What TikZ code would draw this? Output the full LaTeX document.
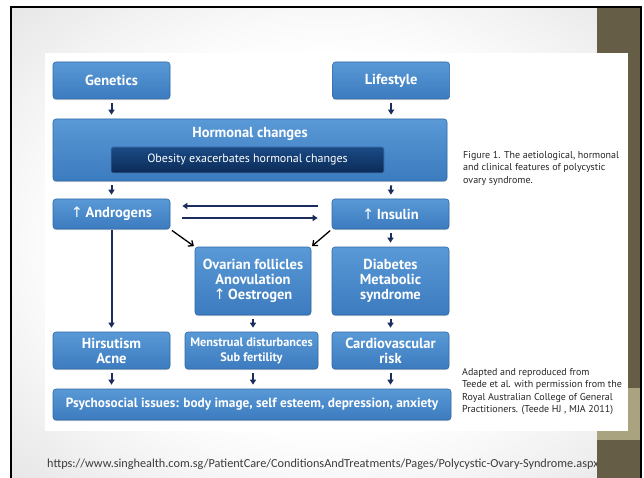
\documentclass[tikz,border=0pt]{standalone}
\usepackage{fontspec}
\setmainfont{PT Sans}
\newfontfamily\webfont{Carlito}
\newfontfamily\arrowfont{DejaVu Sans}
\newcommand{\incr}{{\arrowfont\mdseries ↑}\,}
\usetikzlibrary{arrows.meta,positioning,calc,shadows}
\definecolor{boxtop}{HTML}{5A99D6}
\definecolor{boxbottom}{HTML}{3B7BBF}
\definecolor{boxedge}{HTML}{2F69A8}
\definecolor{darktop}{HTML}{1B4B86}
\definecolor{darkbottom}{HTML}{0B2B57}
\definecolor{navy}{HTML}{1B2D5C}
\definecolor{olive}{HTML}{665D46}
\definecolor{khaki}{HTML}{A9A37F}
\definecolor{urlgray}{HTML}{3C3C3C}
\pgfdeclareradialshading{slide}{\pgfpoint{0bp}{0bp}}{color(0bp)=(white); color(20bp)=(white); color(25bp)=(gray!6); color(36bp)=(gray!20); color(50bp)=(gray!20)}
\tikzset{
  block/.style={
    draw=boxedge,
    line width=0.6pt,
    rectangle,
    rounded corners=3pt,
    top color=boxtop,
    bottom color=boxbottom,
    drop shadow={shadow xshift=0pt, shadow yshift=-1.2pt, opacity=0.3},
    text=white,
    minimum width=117pt,
    minimum height=30pt,
    inner sep=0pt,
    align=center,
    font=\bfseries\fontsize{14.5}{15}\selectfont
  },
  darkbar/.style={
    draw=boxtop!60!darktop,
    line width=0.6pt,
    rectangle,
    rounded corners=2pt,
    top color=darktop,
    bottom color=darkbottom,
    text=white,
    minimum width=273pt,
    minimum height=26pt,
    inner sep=0pt,
    font=\fontsize{12}{13}\selectfont
  },
  line/.style={
    -{Triangle[length=5pt,width=6pt]},
    draw=navy,
    line width=2pt,
    shorten <=4pt,
    shorten >=4pt
  },
  link/.style={
    -{Straight Barb[length=4pt,width=7pt]},
    line width=1.3pt,
    shorten <=2pt,
    shorten >=1pt
  },
  note/.style={
    align=left,
    anchor=north west,
    inner sep=0pt,
    text=black!85,
    font=\fontsize{10}{12.4}\selectfont
  }
}

\begin{document}
\begin{tikzpicture}[x=1pt,y=-1pt]

\useasboundingbox (0,0) rectangle (644,478);
\shade[shading=slide] (11,7) rectangle (641,478);
\draw[line width=2pt] (11,478) -- (11,7) -- (641,7) -- (641,478);
\node[anchor=west, inner sep=0pt, text=urlgray, font=\webfont\fontsize{12.25}{14}\selectfont] (source) at (47,464)
  {https://www.singhealth.com.sg/PatientCare/ConditionsAndTreatments/Pages/Polycystic-Ovary-Syndrome.aspx};
\fill[olive] (597,8) rectangle (640,478);
\fill[khaki] (597,388) rectangle (640,440);
\fill[white] (45,53) rectangle (628,431);

\node[block, minimum height=37pt] (genetics) at (111.5,80.5) {Genetics};
\node[block, minimum height=37pt, right=162pt of genetics] (lifestyle) {Lifestyle};
\node[block, minimum width=394pt, minimum height=62pt] (hormonal) at (250,150) {};
\node[darkbar] (obesity) at (247.5,160) {Obesity exacerbates hormonal changes};
\node[text=white, font=\bfseries\fontsize{14.5}{16}\selectfont] (hormonaltitle) at (250,134) {Hormonal changes};
\node[block] (androgens) at (111.5,214) {\incr Androgens};
\node[block] (insulin) at (390.5,214) {\incr Insulin};
\node[block, minimum width=116pt, minimum height=68pt] (ovarian) at (253,281) {Ovarian follicles\\Anovulation\\\incr Oestrogen};
\node[block, minimum height=68pt] (diabetes) at (390.5,281) {Diabetes\\Metabolic\\syndrome};
\node[block, minimum height=37pt] (hirsutism) at (111.5,350.5) {Hirsutism\\Acne};
\node[block, minimum width=133pt, minimum height=37pt, font=\bfseries\fontsize{12.3}{15}\selectfont] (menstrual) at (251.5,350.5) {Menstrual disturbances\\Sub fertility};
\node[block, minimum height=37pt] (cardio) at (390.5,350.5) {Cardiovascular\\risk};
\node[block, minimum width=398pt, minimum height=31pt, font=\bfseries\fontsize{13.3}{15}\selectfont] (psycho) at (252,404.5) {Psychosocial issues: body image, self esteem, depression, anxiety};

\draw[line] (genetics) -- (genetics |- hormonal.north);
\draw[line] (lifestyle) -- (lifestyle |- hormonal.north);
\draw[line] (genetics |- hormonal.south) -- (androgens);
\draw[line] (lifestyle |- hormonal.south) -- (insulin);
\draw[line, shorten <=14pt, shorten >=12pt] ([yshift=8pt]insulin.west) -- ([yshift=8pt]androgens.east);
\draw[line, shorten <=12pt, shorten >=14pt] ([yshift=-4pt]androgens.east) -- ([yshift=-4pt]insulin.west);
\draw[link] (androgens.south east) -- (ovarian.north west);
\draw[link] (insulin.south west) -- (ovarian.north east);
\draw[line] (insulin) -- (diabetes);
\draw[line, shorten <=1pt] (androgens) -- (hirsutism);
\draw[line] (ovarian) -- (ovarian |- menstrual.north);
\draw[line] (diabetes) -- (cardio);
\draw[line] (hirsutism) -- (hirsutism |- psycho.north);
\draw[line] (ovarian |- menstrual.south) -- (ovarian |- psycho.north);
\draw[line] (cardio) -- (cardio |- psycho.north);

\node[note] (figcaption) at (463,151) {Figure 1. The aetiological, hormonal\\and clinical features of polycystic\\ovary syndrome.};
\node[note] (credit) at (462,368) {Adapted and reproduced from\\Teede et al. with permission from the\\Royal Australian College of General\\Practitioners. (Teede HJ , MJA 2011)};

\end{tikzpicture}
\end{document}
